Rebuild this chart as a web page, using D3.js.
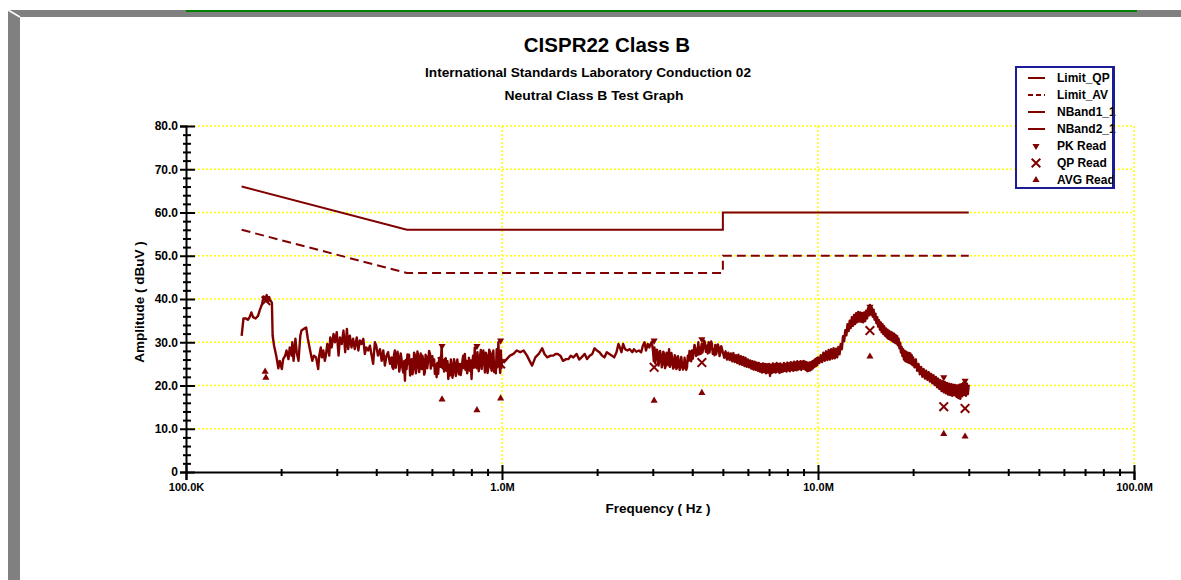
<!DOCTYPE html>
<html>
<head>
<meta charset="utf-8">
<script src="https://cdn.jsdelivr.net/npm/d3@7"></script>
<style>
  body { margin: 0; background: #fff; }
  svg { display: block; font-family: Arial, "Liberation Sans", sans-serif; font-weight: bold; }
</style>
</head>
<body>
<svg id="chart" width="1181" height="580"></svg>
<script>
// frequencies in MHz, amplitudes in dBuV
var limitQpFreq = [0.15, 0.5, 5, 5, 30];
var limitQpAmp  = [66, 56, 56, 60, 60];
var limitAvFreq = [0.15, 0.5, 5, 5, 30];
var limitAvAmp  = [56, 46, 46, 50, 50];

var band1Freq = [
  0.150,0.152,0.155,0.157,0.159,0.161,0.163,0.166,0.169,0.171,
  0.174,0.176,0.178,0.180,0.182,0.184,0.187,0.188,0.190,0.193,
  0.196,0.198,0.201,0.203,0.206,0.208,0.211,0.213,0.216,0.217,
  0.219,0.222,0.224,0.227,0.230,0.232,0.236,0.240,0.243,0.246,
  0.249,0.251,0.254,0.258,0.262,0.264,0.267,0.269,0.272,0.275,
  0.277,0.280,0.284,0.286,0.289,0.293,0.296,0.300,0.304,0.307,
  0.311,0.315,0.319,0.323,0.326,0.330,0.334,0.338,0.342,0.347,
  0.351,0.355,0.359,0.364,0.368,0.372,0.377,0.382,0.386,0.391,
  0.396,0.400,0.405,0.411,0.416,0.421,0.426,0.431,0.436,0.442,
  0.447,0.450,0.453,0.455,0.458,0.461,0.464,0.467,0.470,0.473,
  0.476,0.478,0.481,0.484,0.487,0.490,0.493,0.496,0.499,0.502,
  0.505,0.508,0.512,0.515,0.518,0.521,0.524,0.527,0.531,0.534,
  0.537,0.540,0.544,0.547,0.550,0.553,0.557,0.560,0.564,0.567,
  0.570,0.573,0.577,0.580,0.584,0.588,0.592,0.595,0.599,0.602,
  0.606,0.610,0.613,0.617,0.621,0.624,0.628,0.632,0.637,0.640,
  0.644,0.648,0.652,0.656,0.660,0.664,0.668,0.672,0.676,0.680,
  0.685,0.689,0.693,0.697,0.701,0.705,0.710,0.714,0.718,0.722,
  0.727,0.731,0.736,0.740,0.745,0.750,0.754,0.758,0.763,0.767,
  0.772,0.776,0.781,0.786,0.792,0.796,0.801,0.805,0.810,0.815,
  0.820,0.823,0.826,0.831,0.836,0.844,0.852,0.857,0.862,0.867,
  0.873,0.878,0.883,0.889,0.895,0.900,0.906,0.911,0.916,0.922,
  0.928,0.933,0.939,0.945,0.951,0.956,0.962,0.968,0.974,0.978,
  0.982,0.987,0.992,0.996,1.000];
var band1Amp = [
  31.5,35.5,35.5,35.2,35.8,36.9,35.8,35.5,36.1,37.3,
  38.8,40.6,40.0,40.9,39.4,40.0,39.1,31.5,29.2,26.9,
  24.0,25.7,23.8,26.1,26.9,28.1,26.1,28.8,26.9,30.0,
  25.7,30.8,27.7,25.7,31.5,32.7,33.1,33.4,30.8,28.8,
  26.9,25.7,26.9,26.5,23.8,26.9,28.8,26.5,28.1,25.7,
  26.9,29.6,26.9,31.1,28.8,31.9,30.0,32.3,26.9,31.1,
  29.6,32.7,27.7,33.1,28.4,31.5,28.8,30.8,28.4,31.1,
  28.1,30.4,29.6,30.8,27.3,28.8,28.1,29.2,27.3,25.0,
  30.0,29.2,26.9,28.4,25.7,28.1,24.6,26.9,27.7,25.0,
  26.5,24.2,23.8,27.0,28.1,24.1,25.7,27.8,26.5,23.2,
  24.6,27.4,26.1,24.0,23.0,25.6,21.1,25.9,23.8,27.2,
  25.0,27.1,22.3,24.4,26.1,22.6,23.8,27.6,26.9,22.8,
  24.2,27.9,26.5,23.1,25.0,27.4,23.8,26.9,25.7,22.5,
  23.0,27.1,26.5,24.0,25.7,28.0,27.3,23.9,25.0,26.8,
  24.6,26.0,22.7,24.8,21.9,25.2,22.7,25.8,26.5,24.3,
  29.2,24.0,25.7,23.2,25.4,26.2,23.4,25.6,21.5,24.8,
  22.3,26.0,24.6,21.8,23.0,26.1,25.0,22.2,23.4,26.0,
  24.2,22.6,25.0,22.4,23.8,25.9,26.9,24.0,27.3,23.6,
  25.7,22.8,24.2,26.4,23.4,25.8,21.5,24.7,26.9,24.1,
  28.8,24.4,26.5,24.0,27.7,23.3,26.9,28.2,23.8,25.9,
  28.1,25.6,23.0,27.6,26.9,22.9,24.2,28.3,27.7,24.3,
  23.4,27.4,28.1,23.1,25.0,22.8,28.4,24.4,30.0,25.9,
  24.6,22.9,28.1,24.0,26.1];

var band2Freq = [
  1.000,1.015,1.035,1.060,1.087,1.113,1.142,1.170,1.200,1.223,1.245,1.275,1.307,1.340,1.363,1.390,1.425,1.453,1.477,1.501,
  1.530,1.560,1.596,1.623,1.651,1.682,1.723,1.755,1.785,1.828,1.858,1.894,1.931,1.963,1.996,2.035,2.075,2.109,2.145,2.187,
  2.228,2.265,2.303,2.336,2.360,2.388,2.417,2.452,2.494,2.537,2.585,2.616,2.660,2.712,2.757,2.791,2.825,2.856,2.891,2.926,
  2.952,2.980,
  3.008,3.022,3.037,3.055,3.073,3.091,3.109,3.128,3.146,3.165,
  3.185,3.203,3.221,3.240,3.260,3.280,3.300,3.319,3.338,3.358,
  3.378,3.398,3.418,3.438,3.458,3.479,3.500,3.521,3.543,3.563,
  3.584,3.605,3.627,3.649,3.671,3.692,3.714,3.737,3.760,3.783,
  3.806,3.828,3.850,3.873,3.897,3.921,3.945,3.969,3.993,4.017,
  4.041,4.066,4.091,4.114,4.138,4.160,4.181,4.205,4.230,4.256,
  4.282,4.308,4.335,4.360,4.386,4.418,4.450,4.478,4.506,4.534,
  4.562,4.590,4.617,4.645,4.674,4.703,4.732,4.761,4.790,4.820,
  4.851,4.881,4.911,4.941,4.971,
  5.05,5.10,5.15,5.20,5.25,5.30,5.35,5.40,5.45,5.50,5.55,5.60,5.65,5.70,5.75,5.80,5.85,5.90,5.95,6.00,
  6.05,6.10,6.15,6.20,6.25,6.30,6.35,6.40,6.45,6.50,6.55,6.60,6.65,6.70,6.75,6.80,6.85,6.90,6.95,7.00,
  7.05,7.10,7.15,7.20,7.25,7.30,7.35,7.40,7.45,7.50,7.55,7.60,7.65,7.70,7.75,7.80,7.85,7.90,7.95,8.00,
  8.05,8.10,8.15,8.20,8.25,8.30,8.35,8.40,8.45,8.50,8.55,8.60,8.65,8.70,8.75,8.80,8.85,8.90,8.95,9.00,
  9.05,9.10,9.15,9.20,9.25,9.30,9.35,9.40,9.45,9.50,9.55,9.60,9.65,9.70,9.75,9.80,9.85,9.90,9.95,10.00,
  10.1,10.2,10.3,10.4,10.5,10.6,10.7,10.8,10.9,11.0,11.1,11.2,11.3,11.4,11.5,11.6,11.7,11.8,11.9,12.0,
  12.1,12.2,12.3,12.4,12.5,12.6,12.7,12.8,12.9,13.0,13.1,13.2,13.3,13.4,13.5,13.6,13.7,13.8,13.9,14.0,
  14.1,14.2,14.3,14.4,14.5,14.6,14.7,14.8,14.9,15.0,15.1,15.2,15.3,15.4,15.5,15.6,15.7,15.8,15.9,16.0,
  16.1,16.2,16.3,16.4,16.5,16.6,16.7,16.8,16.9,17.0,17.1,17.2,17.3,17.4,17.5,17.6,17.7,17.8,17.9,18.0,
  18.1,18.2,18.3,18.4,18.5,18.6,18.7,18.8,18.9,19.0,19.1,19.2,19.3,19.4,19.5,19.6,19.7,19.8,19.9,20.0,
  20.2,20.4,20.6,20.8,21.0,21.2,21.4,21.6,21.8,22.0,22.2,22.4,22.6,22.8,23.0,23.2,23.4,23.6,23.8,24.0,
  24.2,24.4,24.6,24.8,25.0,25.2,25.4,25.6,25.8,26.0,26.2,26.4,26.6,26.8,27.0,27.2,27.4,27.6,27.8,28.0,
  28.2,28.4,28.6,28.8,29.0,29.2,29.4,29.6,29.8,30.0];
var band2Amp = [
  26.1,25.4,26.1,26.9,27.3,28.1,27.7,28.1,26.9,25.7,24.6,26.5,27.3,28.6,27.3,26.5,26.9,26.9,27.3,27.3,
  26.9,25.7,26.1,26.1,26.9,26.5,27.3,26.0,26.5,27.3,26.1,26.9,27.3,28.6,28.1,27.7,26.9,26.5,27.7,27.3,
  26.9,26.5,27.7,29.6,28.8,27.7,29.6,28.4,28.1,28.4,27.7,28.4,27.8,28.1,27.7,29.2,30.0,28.1,29.6,28.8,
  29.6,30.1,
  27.7,25.6,28.8,25.1,26.5,28.3,27.7,24.6,25.7,28.0,
  26.9,24.2,25.0,27.8,27.3,24.0,24.6,27.6,26.9,24.7,
  28.4,24.3,25.0,27.5,26.1,23.9,24.2,27.0,26.5,23.8,
  24.2,26.8,25.7,23.6,24.4,26.6,25.0,23.7,24.0,26.4,
  25.0,23.6,24.2,26.9,25.7,28.0,27.3,25.6,28.1,26.2,
  27.7,29.4,28.8,26.8,28.4,27.1,30.0,27.2,28.8,27.3,
  29.6,27.6,28.8,30.4,30.0,27.8,29.2,27.4,30.0,27.6,
  28.8,30.2,29.6,27.3,28.4,27.0,29.4,27.2,28.1,29.5,
  28.8,26.8,27.7,29.1,28.4,
  26.4,27.9,26.0,27.6,25.9,27.4,25.6,27.5,25.4,27.0,25.2,27.1,24.9,26.8,24.8,26.6,24.5,26.4,24.3,26.0,
  24.2,25.8,23.9,25.6,23.7,25.5,23.6,25.3,23.4,25.2,23.2,25.0,23.0,25.1,23.1,25.0,22.8,24.9,23.0,25.0,
  22.2,24.8,22.9,25.1,23.1,24.9,23.0,25.2,23.2,25.0,22.9,25.1,23.1,24.8,23.2,25.2,23.4,25.0,23.2,25.3,
  23.5,25.1,23.3,25.4,23.6,25.2,23.4,25.5,23.6,25.3,23.5,25.6,23.7,25.4,23.8,25.6,23.6,25.5,23.9,25.7,
  23.8,25.5,23.6,25.4,23.3,25.2,23.4,25.3,23.5,25.4,23.7,25.6,24.0,25.8,24.3,26.1,24.5,26.3,24.7,26.5,
  25.2,27.0,25.4,27.6,25.7,27.9,25.9,28.2,26.0,28.4,26.2,28.6,26.3,28.5,26.5,28.9,27.2,29.6,28.4,31.4,
  30.2,32.8,31.6,34.2,32.6,35.0,33.3,35.8,33.8,36.3,34.2,36.7,34.6,37.0,34.8,36.9,34.7,36.8,34.6,36.9,
  34.9,37.3,35.5,37.9,36.2,38.6,36.4,38.0,35.9,37.5,35.2,36.6,34.4,35.8,33.6,35.1,32.9,34.6,32.3,34.2,
  31.9,33.7,31.5,33.2,31.1,32.9,30.8,32.6,30.6,32.4,30.4,32.2,30.1,32.0,29.9,31.7,29.7,31.4,29.3,30.8,
  28.6,29.9,27.6,28.9,26.8,28.4,26.0,28.0,25.6,27.8,25.5,27.6,25.3,27.5,25.2,27.4,25.0,27.0,24.7,26.5,
  24.2,26.0,23.4,25.0,22.6,24.3,22.0,23.8,21.6,23.4,21.3,23.1,20.9,22.7,20.5,22.4,20.1,22.0,19.6,21.6,
  19.2,21.2,18.7,21.0,18.4,20.8,18.2,20.6,17.9,20.4,17.8,20.3,17.6,20.2,17.8,20.1,17.4,20.0,17.1,20.2,
  16.9,20.3,17.5,20.6,17.8,21.0,17.6,20.4,18.0,20.2];

var pkFreq = [0.179, 0.646, 0.833, 0.99, 3.03, 4.29, 14.6, 25.0, 29.2];
var pkAmp  = [40.2, 29.1, 29.1, 30.4, 30.4, 30.7, 38.2, 21.9, 21.1];
var qpFreq = [0.179, 0.646, 0.833, 0.99, 3.03, 4.29, 14.6, 25.0, 29.2];
var qpAmp  = [39.6, 25.5, 25.6, 25.0, 24.2, 25.3, 32.7, 15.1, 14.7];
var avgFreq = [0.178, 0.179, 0.646, 0.833, 0.99, 3.03, 4.29, 14.6, 25.0, 29.2];
var avgAmp  = [23.2, 21.8, 16.8, 14.3, 17.0, 16.5, 18.3, 26.7, 8.8, 8.2];

var yTicks = [0, 10, 20, 30, 40, 50, 60, 70, 80];
var yTickLabels = ["0", "10.0", "20.0", "30.0", "40.0", "50.0", "60.0", "70.0", "80.0"];
var yMinor = [2,4,6,8,12,14,16,18,22,24,26,28,32,34,36,38,42,44,46,48,52,54,56,58,62,64,66,68,72,74,76,78];
var xTicks = [0.1, 1, 10, 100];
var xTickLabels = ["100.0K", "1.0M", "10.0M", "100.0M"];
var xMinor = [0.2,0.3,0.4,0.5,0.6,0.7,0.8,0.9,2,3,4,5,6,7,8,9,20,30,40,50,60,70,80,90];
var legendNames = ["Limit_QP", "Limit_AV", "NBand1_1", "NBand2_1", "PK Read", "QP Read", "AVG Read"];

var red = "#800000";
var svg = d3.select("#chart");

// window frame
svg.append("rect").attr("x", 8).attr("y", 10).attr("width", 1173).attr("height", 7).attr("fill", "#808080");
svg.append("rect").attr("x", 8).attr("y", 10).attr("width", 12).attr("height", 570).attr("fill", "#808080");
svg.append("line").attr("x1", 8).attr("y1", 10).attr("x2", 20).attr("y2", 17).attr("stroke", "#fff").attr("stroke-width", 1.5);
svg.append("rect").attr("x", 186).attr("y", 10).attr("width", 951).attr("height", 2).attr("fill", "#008000");

var x = d3.scaleLog().domain([0.1, 100]).range([186, 1134]);
var y = d3.scaleLinear().domain([0, 80]).range([472, 126]);

// grid
var grid = svg.append("g")
  .attr("stroke", "#ffff00").attr("stroke-width", 1.5).attr("stroke-dasharray", "2,2");
grid.selectAll(".hg").data(yTicks.slice(1)).enter().append("line")
  .attr("x1", x(0.1)).attr("x2", x(100))
  .attr("y1", d => y(d)).attr("y2", d => y(d));
grid.selectAll(".vg").data(xTicks.slice(1)).enter().append("line")
  .attr("x1", d => x(d)).attr("x2", d => x(d))
  .attr("y1", y(0)).attr("y2", y(80));

var line = d3.line().x(d => x(d[0])).y(d => y(d[1]));

svg.append("path").attr("d", line(d3.zip(limitQpFreq, limitQpAmp)))
  .attr("fill", "none").attr("stroke", red).attr("stroke-width", 2);
svg.append("path").attr("d", line(d3.zip(limitAvFreq, limitAvAmp)))
  .attr("fill", "none").attr("stroke", red).attr("stroke-width", 2).attr("stroke-dasharray", "9,5");
svg.append("path").attr("d", line(d3.zip(band1Freq, band1Amp)))
  .attr("fill", "none").attr("stroke", red).attr("stroke-width", 2.4).attr("stroke-linejoin", "round");
svg.append("path").attr("d", line(d3.zip(band2Freq, band2Amp)))
  .attr("fill", "none").attr("stroke", red).attr("stroke-width", 2.4).attr("stroke-linejoin", "round");

// markers
var triDown = d3.symbol().type(d3.symbolTriangle).size(22);
var cross = d3.symbol().type(d3.symbolX).size(50);

svg.selectAll(".pk").data(d3.zip(pkFreq, pkAmp)).enter().append("path")
  .attr("d", triDown)
  .attr("transform", d => "translate(" + x(d[0]) + "," + y(d[1]) + ") rotate(180)")
  .attr("fill", red);
svg.selectAll(".qp").data(d3.zip(qpFreq, qpAmp)).enter().append("path")
  .attr("d", cross)
  .attr("transform", d => "translate(" + x(d[0]) + "," + y(d[1]) + ")")
  .attr("fill", "none").attr("stroke", red).attr("stroke-width", 2);
svg.selectAll(".avg").data(d3.zip(avgFreq, avgAmp)).enter().append("path")
  .attr("d", triDown)
  .attr("transform", d => "translate(" + x(d[0]) + "," + y(d[1]) + ")")
  .attr("fill", red);

// axes
var yAxis = svg.append("g").attr("transform", "translate(186,0)")
  .call(d3.axisLeft(y).tickValues(yTicks).tickSizeOuter(0).tickSize(6).tickPadding(2)
    .tickFormat((d, i) => yTickLabels[i]));
yAxis.selectAll(".tick line").attr("x1", 9);
svg.append("g").attr("transform", "translate(186,0)")
  .call(d3.axisLeft(y).tickValues(yMinor).tickSize(3).tickFormat(""))
  .call(g => g.select(".domain").remove())
  .selectAll(".tick line").attr("x1", 5);

var xAxis = svg.append("g").attr("transform", "translate(0,472)")
  .call(d3.axisBottom(x).tickValues(xTicks).tickSizeOuter(0).tickSize(8).tickPadding(3)
    .tickFormat((d, i) => xTickLabels[i]));
xAxis.selectAll(".tick line").attr("y1", -7);
svg.append("g").attr("transform", "translate(0,472)")
  .call(d3.axisBottom(x).tickValues(xMinor).tickSize(4).tickFormat(""))
  .call(g => g.select(".domain").remove())
  .selectAll(".tick line").attr("y1", -3);

svg.selectAll(".domain, .tick line").attr("stroke", "#000").attr("stroke-width", 2);
svg.selectAll(".tick text").attr("fill", "#000")
  .style("font-weight", "bold")
  .style("font-family", "Arial, 'Liberation Sans', sans-serif");
yAxis.selectAll(".tick text").style("font-size", "12px");
xAxis.selectAll(".tick text").style("font-size", "11px");

// titles
svg.append("text").attr("x", 607).attr("y", 52).attr("text-anchor", "middle")
  .style("font-size", "20.5px").text("CISPR22 Class B");
svg.append("text").attr("x", 588).attr("y", 77).attr("text-anchor", "middle")
  .attr("textLength", 326).attr("lengthAdjust", "spacingAndGlyphs")
  .style("font-size", "12.5px").text("International Standards Laboratory Conduction 02");
svg.append("text").attr("x", 594).attr("y", 100).attr("text-anchor", "middle")
  .attr("textLength", 179).attr("lengthAdjust", "spacingAndGlyphs")
  .style("font-size", "12.5px").text("Neutral Class B Test Graph");
svg.append("text").attr("x", 658).attr("y", 513).attr("text-anchor", "middle")
  .style("font-size", "13.5px").text("Frequency ( Hz )");
svg.append("text").attr("transform", "translate(144,302) rotate(-90)").attr("text-anchor", "middle")
  .style("font-size", "13.5px").text("Amplitude ( dBuV )");

// legend
var legend = svg.append("g");
legend.append("rect").attr("x", 1016).attr("y", 67).attr("width", 97).attr("height", 121)
  .attr("fill", "#fff").attr("stroke", "#1c1c96").attr("stroke-width", 2);
var row = legend.selectAll(".row").data(legendNames).enter().append("g")
  .attr("transform", (d, i) => "translate(1036," + (78 + i * 17) + ")");
row.append("text").attr("x", 21).attr("dy", "0.35em").style("font-size", "12px").text(d => d);
row.filter((d, i) => i < 4).append("line")
  .attr("x1", -8).attr("x2", 9).attr("stroke", red).attr("stroke-width", 2)
  .attr("stroke-dasharray", (d, i) => i === 1 ? "5,3" : null);
row.filter((d, i) => i === 4).append("path").attr("d", triDown).attr("transform", "rotate(180)").attr("fill", red);
row.filter((d, i) => i === 5).append("path").attr("d", cross).attr("fill", "none").attr("stroke", red).attr("stroke-width", 2);
row.filter((d, i) => i === 6).append("path").attr("d", triDown).attr("fill", red);
legend.append("rect").attr("x", 1113).attr("y", 66).attr("width", 2).attr("height", 123).attr("fill", "#1c1c96");
</script>
</body>
</html>
